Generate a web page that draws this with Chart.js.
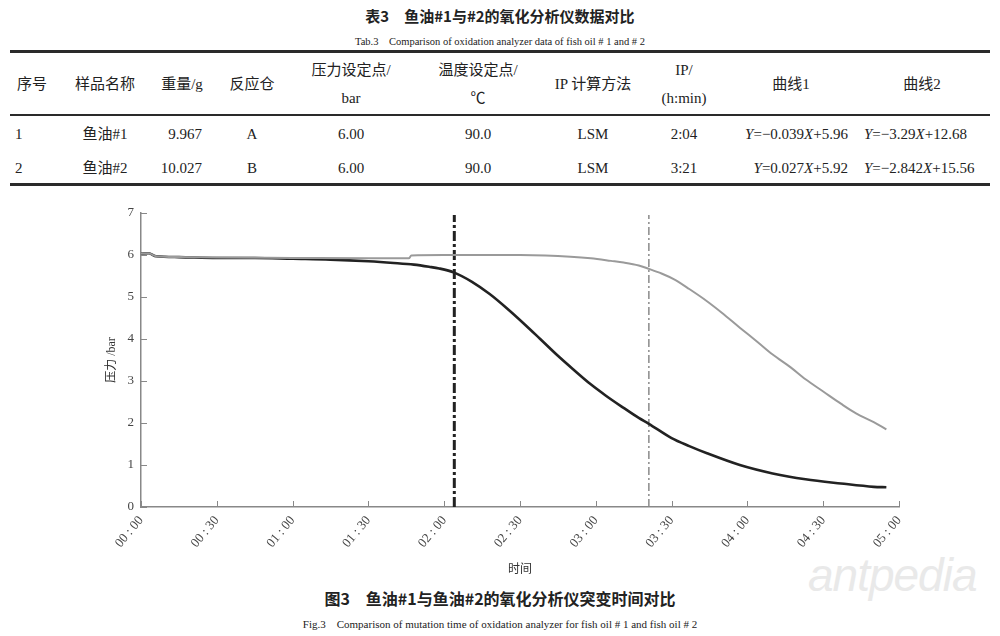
<!DOCTYPE html>
<html lang="zh">
<head>
<meta charset="UTF-8" />
<title>鱼油#1与鱼油#2的氧化分析仪突变时间对比</title>
<script src="https://cdn.jsdelivr.net/npm/chart.js@4.4.0/dist/chart.umd.min.js"></script>
<style>
  * { margin: 0; padding: 0; box-sizing: border-box; }
  body {
    width: 1000px; height: 636px; background: #fff; color: #222; position: relative; overflow: hidden;
    font-family: 'Liberation Serif', 'Noto Sans CJK SC', serif;
  }
  .t { position: absolute; white-space: nowrap; font-size: 15px; line-height: 18px; transform: translate(-50%, -50%); }
  .l { transform: translate(0, -50%); }
  .r { transform: translate(-100%, -50%); }
  .bold { font-family: 'Noto Sans CJK SC', sans-serif; font-weight: bold; }
  .rule { position: absolute; left: 10px; width: 980px; background: #2a2a2a; }
  #wrap { position: absolute; left: 0; top: 195px; width: 1000px; height: 390px; }
  .mark { position: absolute; left: 808px; top: 548px; font: italic 46px 'Liberation Sans', sans-serif; color: #e9e9e9; letter-spacing: -1px; }
</style>
</head>
<body>
  <div class="t bold" style="left:500px;top:16px;font-size:15px;">表3　鱼油#1与#2的氧化分析仪数据对比</div>
  <div class="t" style="left:500px;top:42px;font-size:10.5px;">Tab.3　Comparison of oxidation analyzer data of fish oil # 1 and # 2</div>

  <div class="rule" style="top:50px;height:3px;"></div>
  <div class="rule" style="top:114px;height:1.5px;"></div>
  <div class="rule" style="top:183px;height:3px;"></div>

  <!-- header -->
  <div class="t" style="left:32px;top:84px;">序号</div>
  <div class="t" style="left:105px;top:84px;">样品名称</div>
  <div class="t" style="left:182px;top:84px;">重量/g</div>
  <div class="t" style="left:252px;top:84px;">反应仓</div>
  <div class="t" style="left:351px;top:70px;">压力设定点/</div>
  <div class="t" style="left:351px;top:98px;">bar</div>
  <div class="t" style="left:478px;top:70px;">温度设定点/</div>
  <div class="t" style="left:478px;top:98px;">℃</div>
  <div class="t" style="left:593px;top:84px;">IP 计算方法</div>
  <div class="t" style="left:684px;top:70px;">IP/</div>
  <div class="t" style="left:684px;top:98px;">(h:min)</div>
  <div class="t" style="left:791px;top:84px;">曲线1</div>
  <div class="t" style="left:922px;top:84px;">曲线2</div>

  <!-- row 1 -->
  <div class="t l" style="left:15px;top:134px;">1</div>
  <div class="t" style="left:105px;top:134px;">鱼油#1</div>
  <div class="t r" style="left:202px;top:134px;">9.967</div>
  <div class="t" style="left:252px;top:134px;">A</div>
  <div class="t" style="left:351px;top:134px;">6.00</div>
  <div class="t" style="left:478px;top:134px;">90.0</div>
  <div class="t" style="left:593px;top:134px;">LSM</div>
  <div class="t" style="left:684px;top:134px;">2:04</div>
  <div class="t r" style="left:848px;top:134px;"><i>Y</i>=−0.039<i>X</i>+5.96</div>
  <div class="t l" style="left:864px;top:134px;"><i>Y</i>=−3.29<i>X</i>+12.68</div>

  <!-- row 2 -->
  <div class="t l" style="left:15px;top:168px;">2</div>
  <div class="t" style="left:105px;top:168px;">鱼油#2</div>
  <div class="t r" style="left:202px;top:168px;">10.027</div>
  <div class="t" style="left:252px;top:168px;">B</div>
  <div class="t" style="left:351px;top:168px;">6.00</div>
  <div class="t" style="left:478px;top:168px;">90.0</div>
  <div class="t" style="left:593px;top:168px;">LSM</div>
  <div class="t" style="left:684px;top:168px;">3:21</div>
  <div class="t r" style="left:848px;top:168px;"><i>Y</i>=0.027<i>X</i>+5.92</div>
  <div class="t l" style="left:864px;top:168px;"><i>Y</i>=−2.842<i>X</i>+15.56</div>

  <div class="mark">antpedia</div>

  <div id="wrap"><canvas id="pressureChart" width="1000" height="390"></canvas></div>

  <div class="t bold" style="left:500px;top:598px;font-size:16px;">图3　鱼油#1与鱼油#2的氧化分析仪突变时间对比</div>
  <div class="t" style="left:500px;top:624px;font-size:11px;">Fig.3　Comparison of mutation time of oxidation analyzer for fish oil # 1 and fish oil # 2</div>

  <script>
    // time in minutes since start, pressure in bar
    const oil1Time = [0, 3, 6, 15, 30, 45, 60, 75, 90, 100, 108, 114, 118, 124, 131, 138, 145, 152, 158, 165, 171, 178, 184, 191, 197, 201, 210, 217, 224, 237, 250, 263, 277, 290, 295];
    const oil1Pressure = [6.03, 6.04, 5.97, 5.95, 5.93, 5.93, 5.91, 5.89, 5.85, 5.81, 5.77, 5.72, 5.68, 5.58, 5.36, 5.07, 4.72, 4.34, 4.00, 3.60, 3.28, 2.92, 2.65, 2.36, 2.12, 1.98, 1.64, 1.45, 1.28, 1.00, 0.80, 0.66, 0.56, 0.48, 0.47];

    const oil2Time = [0, 3, 6, 15, 30, 60, 90, 106, 107, 120, 150, 160, 170, 178, 186, 191, 197, 201, 206, 211, 217, 224, 230, 237, 244, 250, 257, 263, 270, 277, 283, 290, 295];
    const oil2Pressure = [6.03, 6.04, 5.97, 5.95, 5.94, 5.93, 5.92, 5.92, 5.99, 6.0, 6.0, 5.99, 5.96, 5.92, 5.86, 5.82, 5.75, 5.67, 5.56, 5.42, 5.19, 4.90, 4.62, 4.27, 3.93, 3.63, 3.33, 3.04, 2.75, 2.46, 2.23, 2.02, 1.85];

    // induction period (IP) markers: 2:04 and 3:21
    const ipTimes = [124, 201];
    const ipTop = 6.95;

    const xTicks = [0, 30, 60, 90, 120, 150, 180, 210, 240, 270, 300];
    const xTickLabels = ['00 : 00', '00 : 30', '01 : 00', '01 : 30', '02 : 00', '02 : 30', '03 : 00', '03 : 30', '04 : 00', '04 : 30', '05 : 00'];
    const yTicks = [0, 1, 2, 3, 4, 5, 6, 7];

    const toPoints = (xs, ys) => xs.map((x, i) => ({ x: x, y: ys[i] }));
    const fontFam = "'Liberation Serif', 'Noto Sans CJK SC', serif";

    // short tick marks pointing into the plot
    const innerTicks = {
      id: 'innerTicks',
      afterDraw(chart) {
        const { ctx, chartArea, scales } = chart;
        ctx.save();
        ctx.strokeStyle = '#888';
        ctx.lineWidth = 1;
        ctx.beginPath();
        xTicks.forEach(v => {
          const x = Math.round(scales.x.getPixelForValue(v)) + 0.5;
          ctx.moveTo(x, chartArea.bottom);
          ctx.lineTo(x, chartArea.bottom - 6);
        });
        yTicks.forEach(v => {
          const y = Math.round(scales.y.getPixelForValue(v)) + 0.5;
          ctx.moveTo(chartArea.left, y);
          ctx.lineTo(chartArea.left + 6, y);
        });
        ctx.stroke();
        ctx.restore();
      }
    };

    new Chart(document.getElementById('pressureChart'), {
      type: 'line',
      data: {
        datasets: [
          {
            label: '鱼油#2',
            data: toPoints(oil2Time, oil2Pressure),
            borderColor: '#9a9a9a', borderWidth: 2, pointRadius: 0, cubicInterpolationMode: 'monotone'
          },
          {
            label: '鱼油#1',
            data: toPoints(oil1Time, oil1Pressure),
            borderColor: '#222', borderWidth: 2.6, pointRadius: 0, cubicInterpolationMode: 'monotone'
          },
          {
            label: 'IP 鱼油#1',
            data: [{ x: ipTimes[0], y: 0 }, { x: ipTimes[0], y: ipTop }],
            borderColor: '#222', borderWidth: 3, borderDash: [10, 3, 3, 3], pointRadius: 0
          },
          {
            label: 'IP 鱼油#2',
            data: [{ x: ipTimes[1], y: 0 }, { x: ipTimes[1], y: ipTop }],
            borderColor: '#8a8a8a', borderWidth: 1.5, borderDash: [8, 3, 2, 3], pointRadius: 0
          }
        ]
      },
      plugins: [innerTicks],
      options: {
        responsive: false,
        animation: false,
        layout: { padding: { left: 101, right: 101, top: 18, bottom: 8 } },
        plugins: { legend: { display: false }, tooltip: { enabled: false } },
        scales: {
          x: {
            type: 'linear', min: 0, max: 300,
            afterBuildTicks: s => { s.ticks = xTicks.map(v => ({ value: v })); },
            afterFit: s => { s.height = 70; },
            grid: { display: false, drawTicks: false },
            border: { display: true, color: '#888', width: 1.5 },
            ticks: {
              minRotation: 50, maxRotation: 50, padding: 6, color: '#444',
              font: { family: fontFam, size: 13 },
              callback: v => xTickLabels[xTicks.indexOf(v)]
            },
            title: { display: true, text: '时间', color: '#333', padding: 0, font: { family: fontFam, size: 12 } }
          },
          y: {
            min: 0, max: 7,
            afterBuildTicks: s => { s.ticks = yTicks.map(v => ({ value: v })); },
            afterFit: s => { s.width = 40; },
            grid: { display: false, drawTicks: false },
            border: { display: true, color: '#888', width: 1.5 },
            ticks: { padding: 7, color: '#444', font: { family: fontFam, size: 13 } },
            title: { display: true, text: '压力 /bar', color: '#333', padding: { top: 4, bottom: 0 }, font: { family: fontFam, size: 12 } }
          }
        }
      }
    });
  </script>
</body>
</html>
